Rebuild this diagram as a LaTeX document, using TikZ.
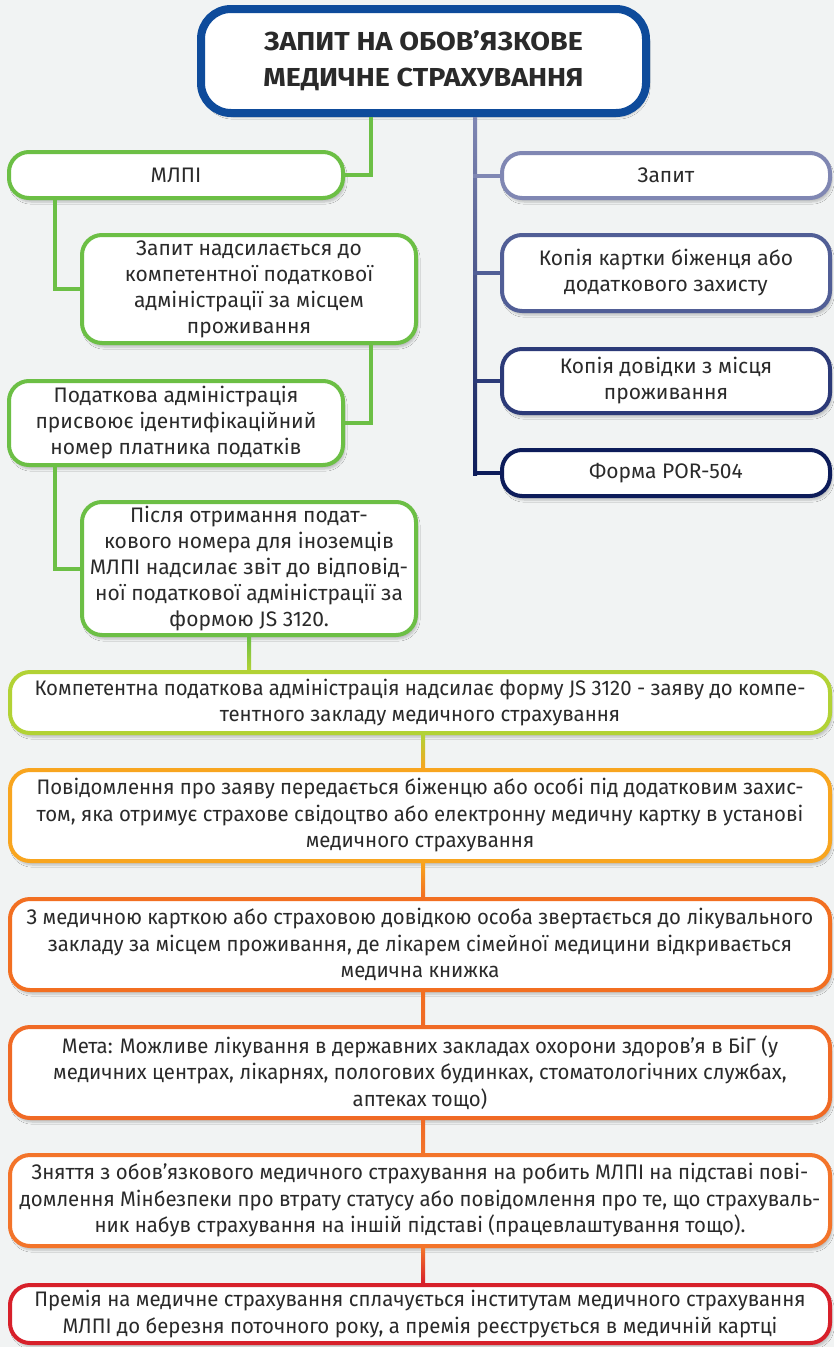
\documentclass[tikz,border=0pt]{standalone}
\usepackage{fontspec}
\setmainfont{Fira Sans}
\newfontfamily\titlefont[FakeStretch=1.1]{Fira Sans}
\newfontfamily\widefont[FakeStretch=0.97]{Fira Sans}
\usetikzlibrary{shadows.blur,calc}
\definecolor{bgc}{HTML}{F1F3F3}
\definecolor{txt}{HTML}{2A2A2A}
\definecolor{ttl}{HTML}{0E4B9B}
\definecolor{grn}{HTML}{6CBF45}
\definecolor{ygr}{HTML}{B2D235}
\definecolor{orA}{HTML}{F8A51F}
\definecolor{orB}{HTML}{F26F21}
\definecolor{orC}{HTML}{F06A25}
\definecolor{orD}{HTML}{F3742A}
\definecolor{redF}{HTML}{D7202A}
\definecolor{blA}{HTML}{8087B3}
\definecolor{blB}{HTML}{515E96}
\definecolor{blC}{HTML}{2C3A78}
\definecolor{blD}{HTML}{0D1C5A}
\tikzset{
  box/.style={draw, rounded corners=20pt, fill=white, align=center, inner sep=0pt,
    font=\fontsize{21}{26}\selectfont, text=txt,
    blur shadow={shadow blur steps=6, shadow xshift=2pt, shadow yshift=-4pt, shadow opacity=22}},
  gbox/.style={box, line width=4pt, draw=grn, minimum width=334pt},
  bbox/.style={box, line width=4pt, minimum width=328pt},
  wbox/.style={box, line width=4pt, minimum width=820pt, font=\widefont\fontsize{21}{26.5}\selectfont},
  conn/.style={line width=4pt},
}
\begin{document}
\begin{tikzpicture}[x=1pt,y=-1pt]
\useasboundingbox (0,0) rectangle (834,1347);
\fill[bgc] (0,0) rectangle (834,1347);
% helper coordinates
\coordinate (gx) at (371,0);
\coordinate (lx) at (55,0);
\coordinate (bx) at (475,0);
\coordinate (cx) at (423,0);
% title
\node[box, line width=8pt, draw=ttl, rounded corners=30pt, minimum width=445pt, minimum height=104pt,
  font=\titlefont\bfseries\fontsize{26}{36}\selectfont] (title) at (423.5,61)
  {ЗАПИТ НА ОБОВ’ЯЗКОВЕ\\МЕДИЧНЕ СТРАХУВАННЯ};
% left green boxes
\node[gbox, minimum height=46pt] (mlpi) at (176,175) {МЛПІ};
\node[gbox, minimum height=108pt] (g2) at (249,289)
  {Запит надсилається до\\компетентної податкової\\адміністрації за місцем\\проживання};
\node[gbox, minimum height=84pt] (g3) at (176,423)
  {Податкова адміністрація\\присвоює ідентифікаційний\\номер платника податків};
\node[gbox, minimum height=133pt] (g4) at (249,568.5)
  {Після отримання подат-\\кового номера для іноземців\\МЛПІ надсилає звіт до відповід-\\ної податкової адміністрації за\\формою JS 3120.};
% right blue boxes
\node[bbox, draw=blA, minimum height=45pt] (b1) at (666,175.5) {Запит};
\node[bbox, draw=blB, minimum height=76pt] (b2) at (666,273) {Копія картки біженця або\\додаткового захисту};
\node[bbox, draw=blC, minimum height=64pt] (b3) at (666,381) {Копія довідки з місця\\проживання};
\node[bbox, draw=blD, minimum height=46pt] (b4) at (666,473) {Форма POR-504};
% wide boxes
\node[wbox, draw=ygr, minimum height=61pt] (wa) at (420,702.5)
  {Компетентна податкова адміністрація надсилає форму JS 3120 - заяву до компе-\\тентного закладу медичного страхування};
\node[wbox, draw=orA, minimum height=91pt] (wb) at (420,815.5)
  {Повідомлення про заяву передається біженцю або особі під додатковим захис-\\том, яка отримує страхове свідоцтво або електронну медичну картку в установі\\медичного страхування};
\node[wbox, draw=orB, minimum height=91pt] (wc) at (420,944.5)
  {З медичною карткою або страховою довідкою особа звертається до лікувального\\закладу за місцем проживання, де лікарем сімейної медицини відкривається\\медична книжка};
\node[wbox, draw=orC, minimum height=91pt] (wd) at (420,1072.5)
  {Мета: Можливе лікування в державних закладах охорони здоров’я в БіГ (у\\медичних центрах, лікарнях, пологових будинках, стоматологічних службах,\\аптеках тощо)};
\node[wbox, draw=orD, minimum height=91pt] (we) at (420,1200.5)
  {Зняття з обов’язкового медичного страхування на робить МЛПІ на підставі пові-\\домлення Мінбезпеки про втрату статусу або повідомлення про те, що страхуваль-\\ник набув страхування на іншій підставі (працевлаштування тощо).};
\node[wbox, draw=redF, minimum height=58pt] (wf) at (420,1314)
  {Премія на медичне страхування сплачується інститутам медичного страхування\\МЛПІ до березня поточного року, а премія реєструється в медичній картці};
% connectors
\draw[conn, grn] (title.south -| gx) |- (mlpi.east);
\draw[conn, grn] (mlpi.south -| lx) |- (g2.west);
\draw[conn, grn] (g2.south -| gx) |- (g3.east);
\draw[conn, grn] (g3.south -| lx) |- (g4.west);
\shade[top color=grn, bottom color=ygr] ($(g4.south)+(-2,0)$) rectangle ($(g4.south |- wa.north)+(2,0)$);
\shade[top color=blA, bottom color=blD] ($(title.south -| bx)+(-2,0)$) rectangle ($(b4.west -| bx)+(2,2)$);
\draw[conn, blA] ($(b1.west -| bx)+(-2,0)$) -- (b1.west);
\draw[conn, blB] ($(b2.west -| bx)+(-2,0)$) -- (b2.west);
\draw[conn, blC] ($(b3.west -| bx)+(-2,0)$) -- (b3.west);
\draw[conn, blD] ($(b4.west -| bx)+(-2,0)$) -- (b4.west);
\shade[top color=ygr, bottom color=orA] ($(wa.south -| cx)+(-2,0)$) rectangle ($(wb.north -| cx)+(2,0)$);
\shade[top color=orA, bottom color=orB] ($(wb.south -| cx)+(-2,0)$) rectangle ($(wc.north -| cx)+(2,0)$);
\shade[top color=orB, bottom color=orC] ($(wc.south -| cx)+(-2,0)$) rectangle ($(wd.north -| cx)+(2,0)$);
\shade[top color=orC, bottom color=orD] ($(wd.south -| cx)+(-2,0)$) rectangle ($(we.north -| cx)+(2,0)$);
\shade[top color=orD, bottom color=redF] ($(we.south -| cx)+(-2,0)$) rectangle ($(wf.north -| cx)+(2,0)$);
\end{tikzpicture}
\end{document}
